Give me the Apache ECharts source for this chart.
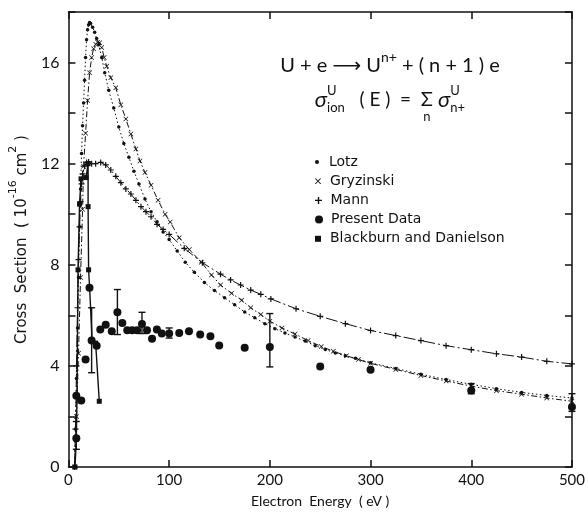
<!DOCTYPE html>
<html>
<head>
<meta charset="utf-8">
<style>
  html, body { margin: 0; padding: 0; background: #fff; }
  #main { width: 588px; height: 514px; }
</style>
<script src="https://cdn.jsdelivr.net/npm/echarts@6/dist/echarts.min.js"></script>
</head>
<body>
<div id="main"></div>
<script>
// Lotz (small dots, dotted)
var lotzE = [6,7,8,9,10,11,12,13,14,15,16,17,18,19,20,21,22,24,26,28,30,33,36,40,45,50,55,60,65,70,76,82,88,94,100,108,116,125,135,145,155,165,175,185,195,205,215,225,235,245,255,265,275,285,300,325,350,375,400,425,450,475,500];
var lotzY = [0,1.5,3.5,5.5,7.5,9.5,11,12.4,13.5,14.4,15.3,16.2,16.9,17.3,17.5,17.58,17.55,17.4,17.2,16.95,16.7,16.2,15.6,14.9,14.2,13.45,12.8,12.25,11.7,11.2,10.6,10.1,9.7,9.3,9.0,8.55,8.1,7.7,7.3,6.98,6.7,6.42,6.13,5.9,5.67,5.47,5.3,5.14,4.98,4.8,4.65,4.51,4.4,4.3,4.12,3.9,3.67,3.46,3.27,3.1,2.95,2.83,2.73];

// Gryzinski (x, dash-dot)
var gryzE = [6,8,10,12,14,15,17,19,21,23,25,27,29,31,33,35.5,38,42,47,52,57,62,67,71,76,82,89,96,101,110,120,132,142,151,162,172,181,191,200,212,225,238,251,263,276,288,300,325,350,375,400,425,450,475,500];
var gryzY = [0,2,4.5,7.5,10.2,11.9,13.2,14.5,15.6,16.2,16.55,16.72,16.8,16.78,16.6,16.2,15.85,15.4,15.0,14.33,13.77,13.17,12.58,12.11,11.65,11.15,10.55,10.0,9.69,9.07,8.6,8.1,7.6,7.2,6.87,6.6,6.3,6.03,5.77,5.5,5.26,5.0,4.77,4.58,4.4,4.25,4.1,3.86,3.62,3.4,3.2,3.02,2.88,2.73,2.6];

// Mann (+, long dash-dot)
var mannE = [6,7,8,9,10,11,12,13,14,16,18,20,23,27,32,37,42,47,52,57,62,67,72,77,82,88,94,100,115,133,151,161,171,181,191,201,226,250,275,300,325,350,375,400,425,450,475,500];
var mannY = [0,1.5,4,6.3,8.2,9.5,10.5,11.2,11.6,11.9,12.05,12.07,12.0,12.0,12.05,11.95,11.75,11.5,11.25,11.0,10.8,10.55,10.3,10.1,9.9,9.6,9.4,9.2,8.65,8.08,7.63,7.4,7.2,7.0,6.83,6.65,6.26,5.96,5.67,5.4,5.2,5.0,4.8,4.64,4.48,4.35,4.18,4.08];

// Present data (large dots)
var presE = [7.8,7.8,12.7,17,20.9,23,28,31.6,37,43,48.6,53.5,58.4,63.3,68.2,73,78,83,87.8,92.7,100,110,119.7,130.8,141,149.7,175,200,250,300,400,500];
var presY = [1.14,2.82,2.63,4.25,7.09,5.0,4.8,5.44,5.63,5.37,6.12,5.7,5.41,5.41,5.41,5.66,5.41,5.07,5.44,5.28,5.28,5.3,5.37,5.24,5.17,4.81,4.72,4.75,3.98,3.85,3.03,2.37];

// error bars on present data
var errE  = [7.8,23,48.6,73,100,200,400,500];
var errLo = [0.7,3.73,5.24,5.28,5.1,3.96,2.9,2.2];
var errHi = [1.8,6.3,7.02,6.12,5.5,6.07,3.3,2.9];

// Blackburn and Danielson (squares, solid)
var bdE = [6.5,7.8,8.5,9.5,11,12.5,17.5,19.5,19.5,20,21,23.5,27,30.6];
var bdY = [0,1.1,2.8,7.8,10.4,11.4,11.45,12.0,10.3,7.8,7.1,5.0,4.9,2.6];

var xTicks = [0,100,200,300,400,500];
var yLabels = [0,4,8,12,16];

var INK = '#111';
var FONT = 'Lato, "DejaVu Sans", sans-serif';
var WIDE = '"DejaVu Sans", sans-serif';
var XMARK = 'path://M1,0L5,4L9,0L10,1L6,5L10,9L9,10L5,6L1,10L0,9L4,5L0,1Z';
var PLUS = 'path://M4,0H6V4H10V6H6V10H4V6H0V4H4Z';
var SQUARE = 'path://M0,0H10V10H0Z';

function zip(a, b) {
    return a.map(function (v, i) { return [v, b[i]]; });
}

// equation text laid out piece by piece
var ctx = document.createElement('canvas').getContext('2d');
function textW(t, fs, it) {
    ctx.font = (it ? 'italic ' : '') + fs + 'px ' + FONT;
    return ctx.measureText(t).width;
}
function eqLine(parts, cx, cy) {
    var items = [], x = 0;
    parts.forEach(function (p) {
        var stack = Array.isArray(p) ? p : [p];
        var w = 0;
        stack.forEach(function (s) { w = Math.max(w, textW(s.t, s.fs, s.it)); });
        stack.forEach(function (s) {
            var sw = textW(s.t, s.fs, s.it);
            items.push({ x: x + (s.c ? (w - sw) / 2 : 0), s: s });
        });
        x += w;
    });
    var x0 = cx - x / 2;
    return items.map(function (it) {
        return {
            type: 'text', x: x0 + it.x, y: cy + (it.s.dy || 0),
            style: {
                text: it.s.t, fontSize: it.s.fs, fontFamily: FONT,
                fontStyle: it.s.it ? 'italic' : 'normal',
                fill: INK, verticalAlign: 'middle'
            }
        };
    });
}

var eq1 = eqLine([
    { t: 'U + e ', fs: 20 },
    { t: '\u27F6', fs: 20 },
    { t: ' U', fs: 20 },
    { t: 'n+', fs: 14, dy: -9 },
    { t: ' + ( n + 1 ) e', fs: 20 }
], 390, 66);

var eq2 = eqLine([
    { t: '\u03C3', fs: 22, it: true },
    [{ t: 'U', fs: 13, dy: -9 }, { t: 'ion', fs: 13, dy: 8 }],
    { t: '   ( E )  =  ', fs: 19 },
    [{ t: '\u03A3', fs: 20, c: true }, { t: 'n', fs: 13, dy: 17, c: true }],
    { t: ' \u03C3', fs: 22, it: true },
    [{ t: 'U', fs: 13, dy: -9 }, { t: 'n+', fs: 13, dy: 8 }]
], 390, 100);

// one legend per row so each marker keeps its own size
var legendRows = [
    { name: 'Lotz', icon: 'circle', h: 4 },
    { name: 'Gryzinski', icon: XMARK, h: 6 },
    { name: 'Mann', icon: PLUS, h: 7 },
    { name: 'Present Data', icon: 'circle', h: 8 },
    { name: 'Blackburn and Danielson', icon: SQUARE, h: 6 }
];
var legends = legendRows.map(function (r, i) {
    return {
        data: [{ name: r.name, icon: r.icon }],
        left: 315, top: 155 + i * 19.2,
        padding: 0, itemWidth: 14, itemHeight: r.h,
        selectedMode: false,
        textStyle: { color: INK, fontSize: 14, fontFamily: WIDE, lineHeight: 14 }
    };
});

function frameAxis(extra) {
    var ax = {
        axisLine: { show: true, onZero: false, lineStyle: { color: INK, width: 1.5 } },
        axisTick: { show: true, inside: true, length: 7, lineStyle: { color: INK, width: 1.5 } },
        splitLine: { show: false }
    };
    for (var k in extra) ax[k] = extra[k];
    return ax;
}

var myChart = echarts.init(document.getElementById('main'), null, { renderer: 'canvas' });

var option = {
    animation: false,
    backgroundColor: '#fff',
    grid: { left: 62, right: 15, top: 12, bottom: 47 },
    legend: legends,
    xAxis: [
        frameAxis({
            type: 'value', min: 0, max: 500, interval: 100, position: 'bottom',
            name: 'Electron  Energy  ( eV )', nameLocation: 'middle', nameGap: 27,
            nameTextStyle: { color: INK, fontSize: 14, fontFamily: FONT },
            axisLabel: {
                color: INK, fontSize: 15, fontFamily: FONT, margin: 6,
                formatter: function (v) { return xTicks.indexOf(v) >= 0 ? v : ''; }
            }
        }),
        frameAxis({
            type: 'value', min: 0, max: 500, interval: 100, position: 'top',
            axisLabel: { show: false }
        })
    ],
    yAxis: [
        frameAxis({
            type: 'value', min: 0, max: 18, interval: 2, position: 'left',
            name: '{m|Cross  Section  ( 10}{s|-16}{m| cm}{s|2}{m| )}',
            nameLocation: 'middle', nameGap: 32,
            nameTextStyle: {
                color: INK, fontFamily: FONT,
                rich: {
                    m: { fontSize: 15, fontFamily: WIDE, color: INK, lineHeight: 22, verticalAlign: 'bottom' },
                    s: { fontSize: 11, fontFamily: WIDE, color: INK, lineHeight: 22, verticalAlign: 'top' }
                }
            },
            axisLabel: {
                color: INK, fontSize: 16, fontFamily: FONT, margin: 9,
                formatter: function (v) { return yLabels.indexOf(v) >= 0 ? v : ''; }
            }
        }),
        frameAxis({
            type: 'value', min: 0, max: 18, interval: 2, position: 'right',
            axisLabel: { show: false }
        })
    ],
    graphic: eq1.concat(eq2),
    series: [
        {
            name: 'Lotz', type: 'line', data: zip(lotzE, lotzY),
            symbol: 'circle', symbolSize: 3.5,
            itemStyle: { color: INK },
            lineStyle: { color: INK, width: 1, type: [1.5, 2.5] }
        },
        {
            name: 'Gryzinski', type: 'line', data: zip(gryzE, gryzY),
            symbol: XMARK, symbolSize: 5,
            itemStyle: { color: INK },
            lineStyle: { color: INK, width: 1, type: [6, 2.5, 1.5, 2.5] }
        },
        {
            name: 'Mann', type: 'line', data: zip(mannE, mannY),
            symbol: PLUS, symbolSize: 6,
            itemStyle: { color: INK },
            lineStyle: { color: INK, width: 1, type: [12, 3, 2, 3] }
        },
        {
            name: 'Present Data', type: 'scatter', data: zip(presE, presY),
            symbol: 'circle', symbolSize: 8, z: 5,
            itemStyle: { color: INK, opacity: 1 }
        },
        {
            name: 'Present Data', type: 'custom', z: 4,
            data: errE.map(function (e, i) { return [e, errLo[i], errHi[i]]; }),
            encode: { x: 0, y: [1, 2] },
            renderItem: function (params, api) {
                var lo = api.coord([api.value(0), api.value(1)]);
                var hi = api.coord([api.value(0), api.value(2)]);
                var w = 3.5;
                var st = { stroke: INK, lineWidth: 1.4 };
                return {
                    type: 'group',
                    children: [
                        { type: 'line', shape: { x1: lo[0], y1: lo[1], x2: hi[0], y2: hi[1] }, style: st },
                        { type: 'line', shape: { x1: lo[0] - w, y1: lo[1], x2: lo[0] + w, y2: lo[1] }, style: st },
                        { type: 'line', shape: { x1: hi[0] - w, y1: hi[1], x2: hi[0] + w, y2: hi[1] }, style: st }
                    ]
                };
            }
        },
        {
            name: 'Blackburn and Danielson', type: 'line', data: zip(bdE, bdY),
            symbol: SQUARE, symbolSize: 5,
            itemStyle: { color: INK },
            lineStyle: { color: INK, width: 1.4 }
        }
    ]
};

myChart.setOption(option);
</script>
</body>
</html>
